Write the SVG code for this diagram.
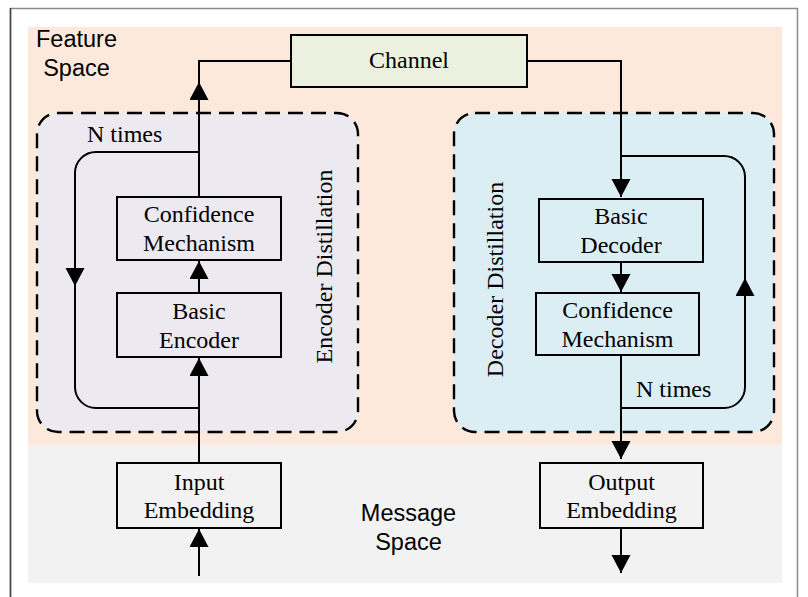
<svg xmlns="http://www.w3.org/2000/svg" width="808" height="597" viewBox="0 0 808 597">
<style>
.serif{font-family:"Liberation Serif","Times New Roman",serif;font-size:24px;fill:#000;}
.sans{font-family:"Liberation Sans",Arial,sans-serif;font-size:23.5px;fill:#000;}
.box{stroke:#000;stroke-width:2;}
.ln{fill:none;stroke:#000;stroke-width:2;}
.dash{stroke:#000;stroke-width:2.4;stroke-dasharray:15 8;}
</style>
<defs>
<marker id="arr" markerUnits="userSpaceOnUse" markerWidth="20" markerHeight="20" refX="18" refY="9.5" orient="auto" viewBox="0 0 20 20">
<path d="M0,0 L18,9.5 L0,19 z" fill="#000"/>
</marker>
</defs>
<rect width="808" height="597" fill="#fff"/>
<path d="M10.5,597 V8.5 H797.5 V597" fill="none" stroke="#8a8a8a" stroke-width="1.5"/>
<line x1="10.5" y1="8" x2="10.5" y2="597" stroke="#444" stroke-width="1.5"/>
<g id="feature-space">
<rect x="28" y="27" width="754" height="418" fill="#FCE9DB"/>
<text class="sans" x="76.5" y="47" text-anchor="middle">Feature</text>
<text class="sans" x="76.5" y="76" text-anchor="middle">Space</text>
</g>
<g id="message-space">
<rect x="28" y="445" width="754" height="138" fill="#F2F2F2"/>
<text class="sans" x="408.5" y="521" text-anchor="middle">Message</text>
<text class="sans" x="408.5" y="550" text-anchor="middle">Space</text>
</g>
<g id="encoder-distillation">
<rect class="dash" x="37" y="113" width="321" height="319" rx="21" fill="#ECE9F1"/>
<text class="serif" transform="translate(332,266.5) rotate(-90)" text-anchor="middle">Encoder Distillation</text>
<text class="serif" x="87" y="142">N times</text>
</g>
<g id="decoder-distillation">
<rect class="dash" x="454" y="113" width="320" height="319" rx="21" fill="#DAEEF3"/>
<text class="serif" transform="translate(503,279.5) rotate(-90)" text-anchor="middle">Decoder Distillation</text>
<text class="serif" x="636" y="397">N times</text>
</g>
<g id="channel">
<rect class="box" x="291" y="35" width="236" height="52" fill="#EBF1DE"/>
<text class="serif" x="409" y="68" text-anchor="middle">Channel</text>
</g>
<g id="enc-confidence">
<rect class="box" x="117" y="197" width="164" height="63" fill="#ECE9F1"/>
<text class="serif" x="199" y="222" text-anchor="middle">Confidence</text>
<text class="serif" x="199" y="251" text-anchor="middle">Mechanism</text>
</g>
<g id="basic-encoder">
<rect class="box" x="117" y="293" width="164" height="64" fill="#ECE9F1"/>
<text class="serif" x="199" y="318.5" text-anchor="middle">Basic</text>
<text class="serif" x="199" y="347.5" text-anchor="middle">Encoder</text>
</g>
<g id="input-embedding">
<rect class="box" x="117" y="463" width="164" height="65" fill="#F2F2F2"/>
<text class="serif" x="199" y="489.5" text-anchor="middle">Input</text>
<text class="serif" x="199" y="518" text-anchor="middle">Embedding</text>
</g>
<g id="basic-decoder">
<rect class="box" x="539" y="199" width="164" height="63" fill="#DAEEF3"/>
<text class="serif" x="621" y="224" text-anchor="middle">Basic</text>
<text class="serif" x="621" y="253" text-anchor="middle">Decoder</text>
</g>
<g id="dec-confidence">
<rect class="box" x="536" y="293" width="163" height="62" fill="#DAEEF3"/>
<text class="serif" x="617.5" y="317.5" text-anchor="middle">Confidence</text>
<text class="serif" x="617.5" y="346.5" text-anchor="middle">Mechanism</text>
</g>
<g id="output-embedding">
<rect class="box" x="540" y="463" width="163" height="65" fill="#F2F2F2"/>
<text class="serif" x="621.5" y="489.5" text-anchor="middle">Output</text>
<text class="serif" x="621.5" y="518" text-anchor="middle">Embedding</text>
</g>
<g id="connectors">
<path class="ln" d="M199,197 V82" marker-end="url(#arr)"/>
<path class="ln" d="M199,83 V61 H291"/>
<path class="ln" d="M199,152 H96 A21,21 0 0 0 75,173 V286" marker-end="url(#arr)"/>
<path class="ln" d="M75,285 V387 A21,21 0 0 0 96,408 H199"/>
<path class="ln" d="M199,293 V261" marker-end="url(#arr)"/>
<path class="ln" d="M199,463 V358" marker-end="url(#arr)"/>
<path class="ln" d="M199,576 V529" marker-end="url(#arr)"/>
<path class="ln" d="M527,61 H621 V197" marker-end="url(#arr)"/>
<path class="ln" d="M621,156 H724 A21,21 0 0 1 745,177 V280"/>
<path class="ln" d="M621,408 H724 A21,21 0 0 0 745,387 V278" marker-end="url(#arr)"/>
<path class="ln" d="M621,262 V292" marker-end="url(#arr)"/>
<path class="ln" d="M621,355 V459" marker-end="url(#arr)"/>
<path class="ln" d="M621,528 V573" marker-end="url(#arr)"/>
</g>
</svg>
